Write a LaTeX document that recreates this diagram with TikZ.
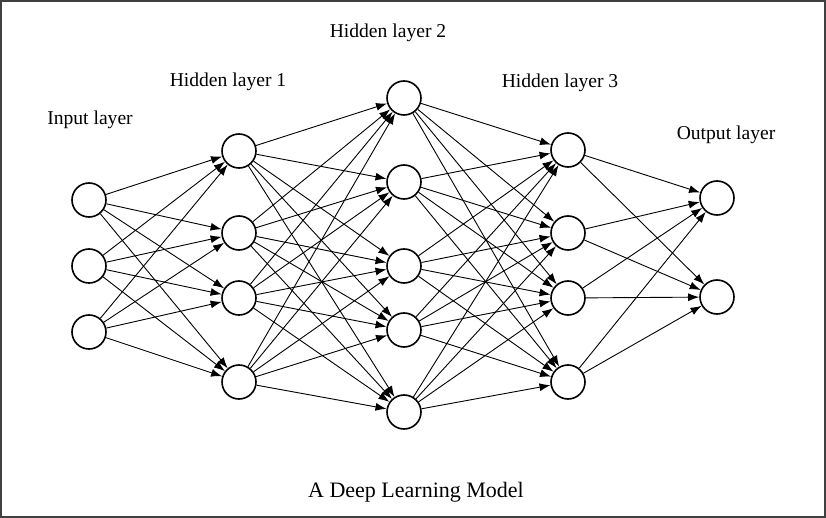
\documentclass[tikz,border=0pt]{standalone}
\usepackage{fontspec}
\setmainfont{Liberation Serif}
\usetikzlibrary{arrows.meta}

\begin{document}
\begin{tikzpicture}[x=1pt, y=-1pt, >={Latex[length=11pt,width=8pt]},
    neuron/.style={circle, draw, line width=1.6pt, minimum size=34pt, inner sep=0pt},
    layer/.style={font=\fontsize{19.6}{23}\selectfont},
    edge/.style={->, line width=0.9pt}]

    \useasboundingbox (0, 0) rectangle (826, 518);
    \draw [line width=2pt, black!75] (1, 1) rectangle (825, 517);

    \node[neuron] (a1) at (89, 200) {};
    \node[neuron] (a2) at (89, 266) {};
    \node[neuron] (a3) at (89, 332) {};
    \node[neuron] (b1) at (239, 151) {};
    \node[neuron] (b2) at (239, 233) {};
    \node[neuron] (b3) at (239, 298) {};
    \node[neuron] (b4) at (239, 382) {};
    \node[neuron] (c1) at (404, 98) {};
    \node[neuron] (c2) at (404, 182) {};
    \node[neuron] (c3) at (404, 266) {};
    \node[neuron] (c4) at (404, 330) {};
    \node[neuron] (c5) at (404, 412) {};
    \node[neuron] (d1) at (568, 150) {};
    \node[neuron] (d2) at (568, 233) {};
    \node[neuron] (d3) at (568, 298) {};
    \node[neuron] (d4) at (568, 382) {};
    \node[neuron] (e1) at (717, 198) {};
    \node[neuron] (e2) at (717, 297) {};

    \node[layer] (la) at (90, 120) {Input layer};
    \node[layer] (lb) at (228, 82) {Hidden layer 1};
    \node[layer] (lc) at (388, 33) {Hidden layer 2};
    \node[layer] (ld) at (560, 83) {Hidden layer 3};
    \node[layer] (le) at (726, 135) {Output layer};
    \node[font=\fontsize{22}{26}\selectfont] (title) at (416, 492) {A Deep Learning Model};

    \draw [edge] (a1) to (b1);
    \draw [edge] (a1) to (b2);
    \draw [edge] (a1) to (b3);
    \draw [edge] (a1) to (b4);
    \draw [edge] (a2) to (b1);
    \draw [edge] (a2) to (b2);
    \draw [edge] (a2) to (b3);
    \draw [edge] (a2) to (b4);
    \draw [edge] (a3) to (b1);
    \draw [edge] (a3) to (b2);
    \draw [edge] (a3) to (b3);
    \draw [edge] (a3) to (b4);

    \draw [edge] (b1) to (c1);
    \draw [edge] (b1) to (c2);
    \draw [edge] (b1) to (c3);
    \draw [edge] (b1) to (c4);
    \draw [edge] (b1) to (c5);
    \draw [edge] (b2) to (c1);
    \draw [edge] (b2) to (c2);
    \draw [edge] (b2) to (c3);
    \draw [edge] (b2) to (c4);
    \draw [edge] (b2) to (c5);
    \draw [edge] (b3) to (c1);
    \draw [edge] (b3) to (c2);
    \draw [edge] (b3) to (c3);
    \draw [edge] (b3) to (c4);
    \draw [edge] (b3) to (c5);
    \draw [edge] (b4) to (c1);
    \draw [edge] (b4) to (c2);
    \draw [edge] (b4) to (c3);
    \draw [edge] (b4) to (c4);
    \draw [edge] (b4) to (c5);

    \draw [edge] (c1) to (d1);
    \draw [edge] (c1) to (d2);
    \draw [edge] (c1) to (d3);
    \draw [edge] (c1) to (d4);
    \draw [edge] (c2) to (d1);
    \draw [edge] (c2) to (d2);
    \draw [edge] (c2) to (d3);
    \draw [edge] (c2) to (d4);
    \draw [edge] (c3) to (d1);
    \draw [edge] (c3) to (d2);
    \draw [edge] (c3) to (d3);
    \draw [edge] (c3) to (d4);
    \draw [edge] (c4) to (d1);
    \draw [edge] (c4) to (d2);
    \draw [edge] (c4) to (d3);
    \draw [edge] (c4) to (d4);
    \draw [edge] (c5) to (d1);
    \draw [edge] (c5) to (d2);
    \draw [edge] (c5) to (d3);
    \draw [edge] (c5) to (d4);

    \draw [edge] (d1) to (e1);
    \draw [edge] (d1) to (e2);
    \draw [edge] (d2) to (e1);
    \draw [edge] (d2) to (e2);
    \draw [edge] (d3) to (e1);
    \draw [edge] (d3) to (e2);
    \draw [edge] (d4) to (e1);
    \draw [edge] (d4) to (e2);

\end{tikzpicture}
\end{document}
